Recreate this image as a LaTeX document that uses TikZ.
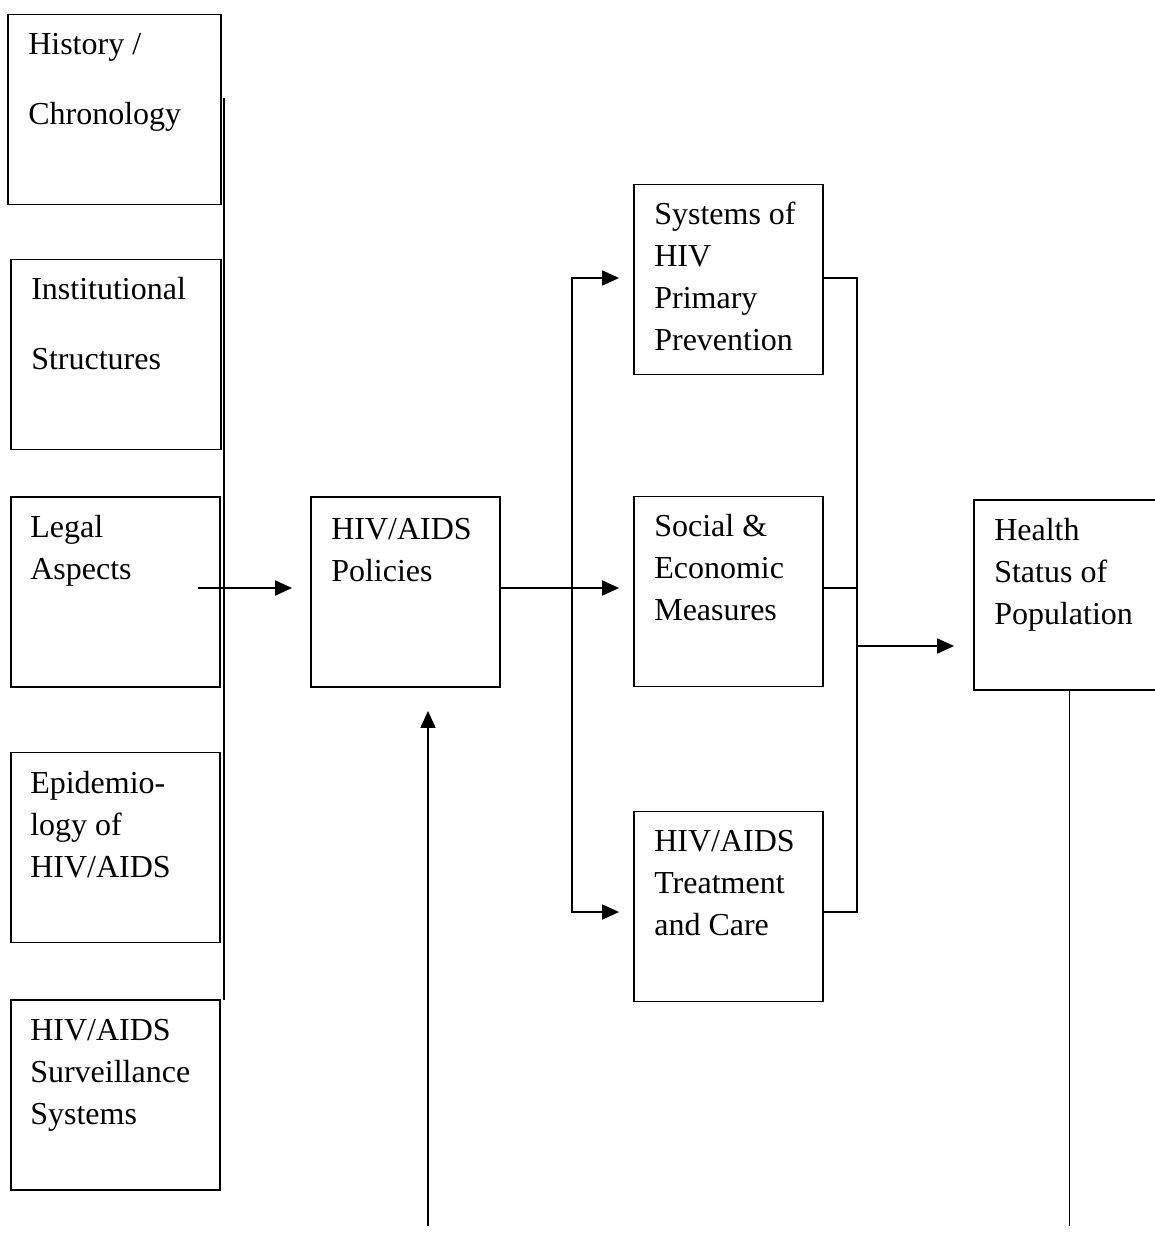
\documentclass[tikz,border=0pt]{standalone}
\usepackage{fontspec}
\setmainfont{Liberation Serif}
\usetikzlibrary{arrows.meta}
\newcommand{\mylines}[1]{\begin{tabular}[t]{@{}l@{}}#1\end{tabular}}
\begin{document}
\begin{tikzpicture}[x=1pt,y=-1pt,
  box/.style={draw, line width=1.8pt, inner sep=0pt, minimum width=#1, minimum height=190pt},
  box/.default=189pt,
  txt/.style={anchor=base west, inner sep=0pt, font=\fontsize{32}{42}\selectfont},
  conn/.style={line width=1.8pt},
  arr/.style={conn, -{Triangle[length=17pt,width=15pt]}}]
\useasboundingbox (0,0) rectangle (1155,1237);
% left column
\node[box=213pt] (hist) at (114.5,109.5) {};
\node[box=210pt] (inst) at (116,354.5) {};
\node[box=209pt] (legal) at (115.5,592) {};
\node[box=209pt] (epi) at (115.5,847.5) {};
\node[box=209pt] (surv) at (115.5,1095) {};
% middle
\node[box] (pol) at (405.5,592) {};
\node[box] (sys) at (728.5,279.5) {};
\node[box] (soc) at (728.5,591.5) {};
\node[box] (treat) at (728.5,906.5) {};
\node[box=191pt] (health) at (1069.5,595) {};
% texts
\node[txt] (thist) at ([xshift=21pt,yshift=-41pt]hist.north west) {\mylines{History /\\[28pt]Chronology}};
\node[txt] (tinst) at ([xshift=21pt,yshift=-41pt]inst.north west) {\mylines{Institutional\\[28pt]Structures}};
\node[txt] (tlegal) at ([xshift=20pt,yshift=-41pt]legal.north west) {\mylines{Legal\\Aspects}};
\node[txt] (tepi) at ([xshift=20pt,yshift=-42pt]epi.north west) {\mylines{Epidemio-\\logy of\\HIV/AIDS}};
\node[txt] (tsurv) at ([xshift=20pt,yshift=-41pt]surv.north west) {\mylines{HIV/AIDS\\Surveillance\\Systems}};
\node[txt] (tpol) at ([xshift=21pt,yshift=-43pt]pol.north west) {\mylines{HIV/AIDS\\Policies}};
\node[txt] (tsys) at ([xshift=21pt,yshift=-41pt]sys.north west) {\mylines{Systems of\\HIV\\Primary\\Prevention}};
\node[txt] (tsoc) at ([xshift=21pt,yshift=-41pt]soc.north west) {\mylines{Social \&\\Economic\\Measures}};
\node[txt] (ttreat) at ([xshift=21pt,yshift=-41pt]treat.north west) {\mylines{HIV/AIDS\\Treatment\\and Care}};
\node[txt] (thealth) at ([xshift=21pt,yshift=-41pt]health.north west) {\mylines{Health\\Status of\\Population}};
% coordinates
\coordinate (bustop) at (224,98);
\coordinate (busbot) at (224,1000);
\coordinate (legalout) at (198,588);
\coordinate (br) at (572,588);
\coordinate (ytop) at (0,278);
\coordinate (ybot) at (0,912);
\coordinate (ymid) at (0,588);
\coordinate (cx) at (857,0);
\coordinate (hin) at (857,646);
\coordinate (upstart) at (428,1226);
\coordinate (hend) at (0,1226);
% connectors
\draw[conn] (bustop) -- (busbot);
\draw[arr, shorten >=18pt] (legalout) -- (pol.west |- legalout);
\draw[arr, shorten >=14pt] (pol.east |- ymid) -- (soc.west |- ymid);
\draw[arr, shorten >=14pt] (br) |- (sys.west |- ytop);
\draw[arr, shorten >=14pt] (br) |- (treat.west |- ybot);
\draw[conn] (sys.east |- ytop) -| (cx |- ybot) -- (treat.east |- ybot);
\draw[conn] (soc.east |- ymid) -- (cx |- ymid);
\draw[arr, shorten >=19pt] (hin) -- (health.west |- hin);
\draw[conn] (health.south) -- (health.south |- hend);
\draw[arr, shorten >=23pt] (upstart) -- (pol.south -| upstart);
\end{tikzpicture}
\end{document}
